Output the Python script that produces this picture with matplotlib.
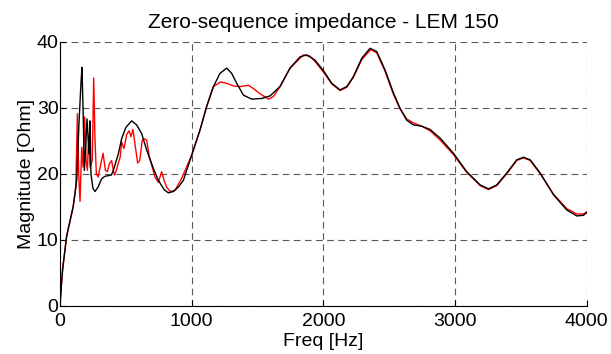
import matplotlib
matplotlib.use("Agg")
import matplotlib.pyplot as plt

# Measured curve (black)
freq_black = [0, 10, 20, 50, 100, 127, 144, 160, 167, 175, 185, 195, 205, 215, 222, 228, 235, 250,
              266, 290, 315, 340, 390, 405, 443, 468, 500, 544, 582, 620, 658, 709, 747, 790, 823,
              861, 900, 937, 1000, 1063, 1114, 1165, 1215, 1266, 1304, 1342, 1393, 1456, 1532, 1596,
              1671, 1747, 1823, 1874, 1937, 2001, 2064, 2127, 2178, 2228, 2292, 2355, 2406, 2469,
              2533, 2583, 2633, 2684, 2747, 2811, 2887, 2988, 3089, 3191, 3254, 3317, 3393, 3469,
              3520, 3571, 3647, 3748, 3849, 3925, 3976, 4000]
mag_black = [0, 3, 5.5, 10.5, 15, 19, 27.6, 34, 36.1, 30, 20.5, 24, 28.3, 25, 23, 28, 20, 17.8,
             17.3, 18, 19.2, 19.6, 19.8, 20.5, 23, 25.3, 27, 28, 27.4, 26.1, 23.6, 20.8, 19.0, 17.6, 17.1,
             17.3, 18, 19, 22.8, 26.6, 30.2, 33.2, 35.2, 36.0, 35.2, 33.7, 31.9, 31.3, 31.4, 31.8,
             33.2, 36.0, 37.7, 38.0, 37.2, 35.6, 33.7, 32.7, 33.2, 34.7, 37.5, 39.0, 38.5, 35.7,
             32.2, 29.9, 28.1, 27.4, 27.2, 26.7, 25.4, 23.1, 20.3, 18.3, 17.7, 18.3, 20.1, 22.1,
             22.5, 22.1, 20.1, 16.8, 14.5, 13.6, 13.7, 14.1]

# Simulated curve (red)
freq_red = [0, 10, 20, 50, 100, 120, 132, 142, 152, 165, 175, 187, 198, 208, 218, 228, 245, 256,
            266, 276, 290, 305, 327, 345, 360, 375, 392, 405, 413, 428, 443, 458, 468, 486, 506,
            524, 539, 554, 570, 590, 605, 625, 640, 658, 678, 701, 721, 747, 772, 790, 810, 836,
            874, 924, 1000, 1063, 1114, 1165, 1203, 1220, 1266, 1317, 1367, 1431, 1469, 1520,
            1583, 1621, 1671, 1747, 1848, 1899, 1937, 2001, 2064, 2127, 2178, 2228, 2292, 2360,
            2406, 2469, 2533, 2583, 2633, 2684, 2747, 2811, 2887, 2988, 3089, 3191, 3254, 3317,
            3393, 3469, 3520, 3571, 3647, 3748, 3849, 3925, 3976, 4000]
mag_red = [0, 3, 5.5, 10.5, 15, 18, 29.1, 20, 15.8, 24, 21, 28.6, 22, 20.5, 26, 21, 22, 34.5,
           25, 20, 19.5, 21, 23.1, 20.5, 20.3, 21.5, 22, 20.5, 19.8, 20.5, 21.6, 22.6, 24.8, 23.8, 25.9,
           26.5, 25.6, 26.7, 24.4, 21.6, 22, 25.1, 25.3, 25.1, 22.6, 21, 19.5, 18.7, 20.3, 19, 18, 17.3,
           17.5, 19.3, 22.8, 26.6, 30.2, 33.2, 33.7, 33.9, 33.7, 33.3, 33.2, 33.4, 32.9, 32.1,
           31.3, 31.7, 33.2, 36.0, 38.0, 37.8, 37.0, 35.4, 33.6, 32.6, 33.1, 34.6, 37.3, 38.8,
           38.3, 35.5, 32.0, 29.8, 28.3, 27.7, 27.2, 26.5, 25.1, 22.9, 20.2, 18.2, 17.6, 18.2,
           20.0, 22.0, 22.4, 22.0, 20.0, 16.9, 14.7, 13.9, 13.9, 14.2]

x_ticks = [0, 1000, 2000, 3000, 4000]
y_ticks = [0, 10, 20, 30, 40]

plt.rcParams['font.family'] = ['Liberation Sans', 'DejaVu Sans']

fig = plt.figure(figsize=(6.11, 3.54), dpi=100)
ax = fig.add_axes([0.0982, 0.1364, 0.8620, 0.7458])

ax.plot(freq_red, mag_red, color='red', linewidth=1.0)
ax.plot(freq_black, mag_black, color='black', linewidth=1.0)

ax.set_xlim(0, 4000)
ax.set_ylim(0, 40)
ax.set_xticks(x_ticks)
ax.set_yticks(y_ticks)
ax.tick_params(direction='in', length=4, labelsize=14)
ax.tick_params(axis='x', pad=5.5)
ax.tick_params(axis='y', pad=1)

ax.grid(True, color='0.35', linestyle=(0, (6, 4)), linewidth=0.8)
ax.spines['top'].set_visible(False)
ax.spines['right'].set_visible(False)

ax.set_title("Zero-sequence impedance - LEM 150", fontsize=15, pad=10)
ax.set_xlabel("Freq [Hz]", fontsize=14, labelpad=2)
ax.set_ylabel("Magnitude [Ohm]", fontsize=14, labelpad=1)

fig.savefig("out.png", dpi=100)
